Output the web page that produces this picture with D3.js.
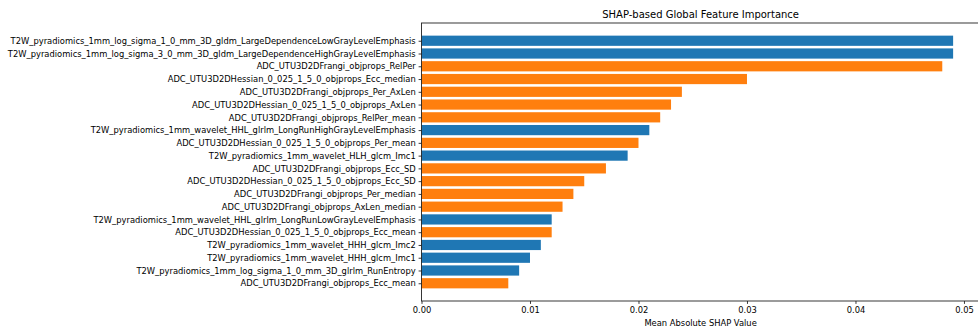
<!DOCTYPE html>
<html>
<head>
<meta charset="utf-8">
<script src="https://cdn.jsdelivr.net/npm/d3@7"></script>
<style>
  html, body { margin: 0; padding: 0; background: #fff; }
  svg { display: block; font-family: "DejaVu Sans", sans-serif; }
</style>
</head>
<body>
<svg id="chart" width="978" height="329"></svg>
<script>
// Feature names, top to bottom
const features = [
  "T2W_pyradiomics_1mm_log_sigma_1_0_mm_3D_gldm_LargeDependenceLowGrayLevelEmphasis",
  "T2W_pyradiomics_1mm_log_sigma_3_0_mm_3D_gldm_LargeDependenceHighGrayLevelEmphasis",
  "ADC_UTU3D2DFrangi_objprops_RelPer",
  "ADC_UTU3D2DHessian_0_025_1_5_0_objprops_Ecc_median",
  "ADC_UTU3D2DFrangi_objprops_Per_AxLen",
  "ADC_UTU3D2DHessian_0_025_1_5_0_objprops_AxLen",
  "ADC_UTU3D2DFrangi_objprops_RelPer_mean",
  "T2W_pyradiomics_1mm_wavelet_HHL_glrlm_LongRunHighGrayLevelEmphasis",
  "ADC_UTU3D2DHessian_0_025_1_5_0_objprops_Per_mean",
  "T2W_pyradiomics_1mm_wavelet_HLH_glcm_Imc1",
  "ADC_UTU3D2DFrangi_objprops_Ecc_SD",
  "ADC_UTU3D2DHessian_0_025_1_5_0_objprops_Ecc_SD",
  "ADC_UTU3D2DFrangi_objprops_Per_median",
  "ADC_UTU3D2DFrangi_objprops_AxLen_median",
  "T2W_pyradiomics_1mm_wavelet_HHL_glrlm_LongRunLowGrayLevelEmphasis",
  "ADC_UTU3D2DHessian_0_025_1_5_0_objprops_Ecc_mean",
  "T2W_pyradiomics_1mm_wavelet_HHH_glcm_Imc2",
  "T2W_pyradiomics_1mm_wavelet_HHH_glcm_Imc1",
  "T2W_pyradiomics_1mm_log_sigma_1_0_mm_3D_glrlm_RunEntropy",
  "ADC_UTU3D2DFrangi_objprops_Ecc_mean"
];

// Mean absolute SHAP value per feature
const shapValues = [
  0.049, 0.049, 0.048, 0.030, 0.024, 0.023, 0.022, 0.021, 0.020, 0.019,
  0.017, 0.015, 0.014, 0.013, 0.012, 0.012, 0.011, 0.010, 0.009, 0.008
];

const xTicks = [0.00, 0.01, 0.02, 0.03, 0.04, 0.05];

// Colour by imaging sequence
const sequenceColors = { T2W: "#1f77b4", ADC: "#ff7f0e" };

const svg = d3.select("#chart");
const plot = { left: 421.5, right: 979.7, top: 23, bottom: 301 };
const tickFont = "8.35px";

const xMax = d3.max(shapValues) * 1.05;
const x = d3.scaleLinear().domain([0, xMax]).range([plot.left, plot.right]);

// Bar band of 0.8 with 5% margins around the bar extent
const n = features.length;
const span = (n - 1) + 0.8;
const unit = (plot.bottom - plot.top) / (span * 1.1);
const pad = span * 0.05 * unit;
const y = d3.scalePoint()
  .domain(features)
  .range([plot.top + pad + 0.4 * unit, plot.bottom - pad - 0.4 * unit]);
const barH = 0.8 * unit;

// Bars
svg.append("g")
  .selectAll("rect")
  .data(features)
  .join("rect")
  .attr("x", x(0))
  .attr("y", d => y(d) - barH / 2)
  .attr("width", (d, i) => x(shapValues[i]) - x(0))
  .attr("height", barH)
  .attr("fill", d => sequenceColors[d.split("_")[0]]);

// Frame
svg.append("rect")
  .attr("x", plot.left).attr("y", plot.top)
  .attr("width", plot.right - plot.left)
  .attr("height", plot.bottom - plot.top)
  .attr("fill", "none").attr("stroke", "#222").attr("stroke-width", 0.9);

// X axis
const xAxis = svg.append("g")
  .attr("transform", `translate(0,${plot.bottom})`)
  .call(d3.axisBottom(x).tickValues(xTicks).tickFormat(d3.format(".2f")).tickSize(2.9).tickPadding(2.9));
xAxis.select(".domain").remove();
xAxis.selectAll("line").attr("stroke", "#222").attr("stroke-width", 0.9);
xAxis.selectAll("text").attr("font-size", tickFont).attr("fill", "#000")
  .attr("font-family", "DejaVu Sans, sans-serif");

// Y axis
const yAxis = svg.append("g")
  .attr("transform", `translate(${plot.left},0)`)
  .call(d3.axisLeft(y).tickSize(2.9).tickPadding(2.9));
yAxis.select(".domain").remove();
yAxis.selectAll("line").attr("stroke", "#222").attr("stroke-width", 0.9);
yAxis.selectAll("text").attr("font-size", tickFont).attr("fill", "#000")
  .attr("font-family", "DejaVu Sans, sans-serif");

// Title and axis label
svg.append("text")
  .attr("x", (plot.left + plot.right) / 2).attr("y", 18.3)
  .attr("text-anchor", "middle")
  .attr("font-size", "10px")
  .text("SHAP-based Global Feature Importance");

svg.append("text")
  .attr("x", (plot.left + plot.right) / 2).attr("y", 325.5)
  .attr("text-anchor", "middle")
  .attr("font-size", tickFont)
  .text("Mean Absolute SHAP Value");
</script>
</body>
</html>
